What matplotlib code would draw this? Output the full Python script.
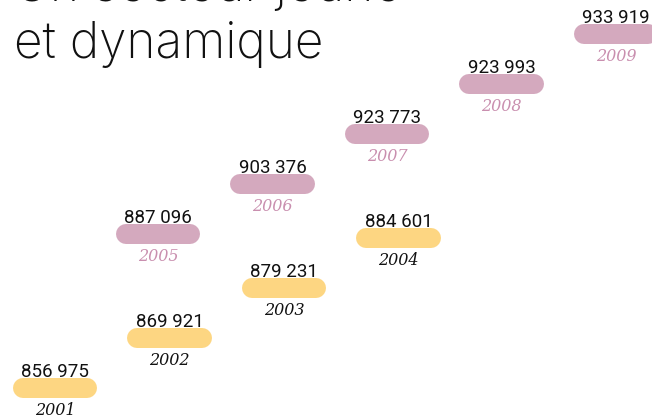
import matplotlib.pyplot as plt

# Données
years_a = ["2001", "2002", "2003", "2004"]
values_a = [856975, 869921, 879231, 884601]
years_b = ["2005", "2006", "2007", "2008", "2009"]
values_b = [887096, 903376, 923773, 923993, 933919]

title_lines = ["Un secteur jeune", "et dynamique"]

yellow = "#FDD682"
pink = "#D4A9BE"
pink_text = "#C98FAF"


def fmt(v):
    return f"{v:,}".replace(",", " ")


def draw_series(ax, years, values, x0, y0, color, year_color):
    for i, (yr, v) in enumerate(zip(years, values)):
        cx = x0 + i
        cy = y0 + i
        ax.plot([cx - 0.28, cx + 0.28], [cy, cy], color=color, lw=14.4,
                solid_capstyle="round")
        ax.annotate(fmt(v), (cx, cy), xytext=(0, 8), textcoords="offset points",
                    ha="center", va="baseline", fontsize=13.5,
                    family="Roboto", color="#111111")
        ax.annotate(yr, (cx, cy), xytext=(0, -19.4), textcoords="offset points",
                    ha="center", va="baseline", fontsize=11.5,
                    family="DejaVu Serif", style="italic", color=year_color)


fig = plt.figure(figsize=(6.52, 4.18), dpi=100)
ax = fig.add_axes([0, 0, 1, 1])
ax.set_xlim(-0.48, 5.214)
ax.set_ylim(-0.6, 7.76)
ax.axis("off")

draw_series(ax, years_a, values_a, 0, 0, yellow, "#111111")
draw_series(ax, years_b, values_b, 0.9, 3.08, pink, pink_text)

# Titre (en partie coupé en haut)
fig.text(0.022, 1 - 1 / 418, title_lines[0], fontsize=35.7,
         family="Inter", weight="light", va="baseline", color="#111111")
fig.text(0.022, 1 - 58 / 418, title_lines[1], fontsize=35.7,
         family="Inter", weight="light", va="baseline", color="#111111")

fig.savefig("out.png", dpi=100)
